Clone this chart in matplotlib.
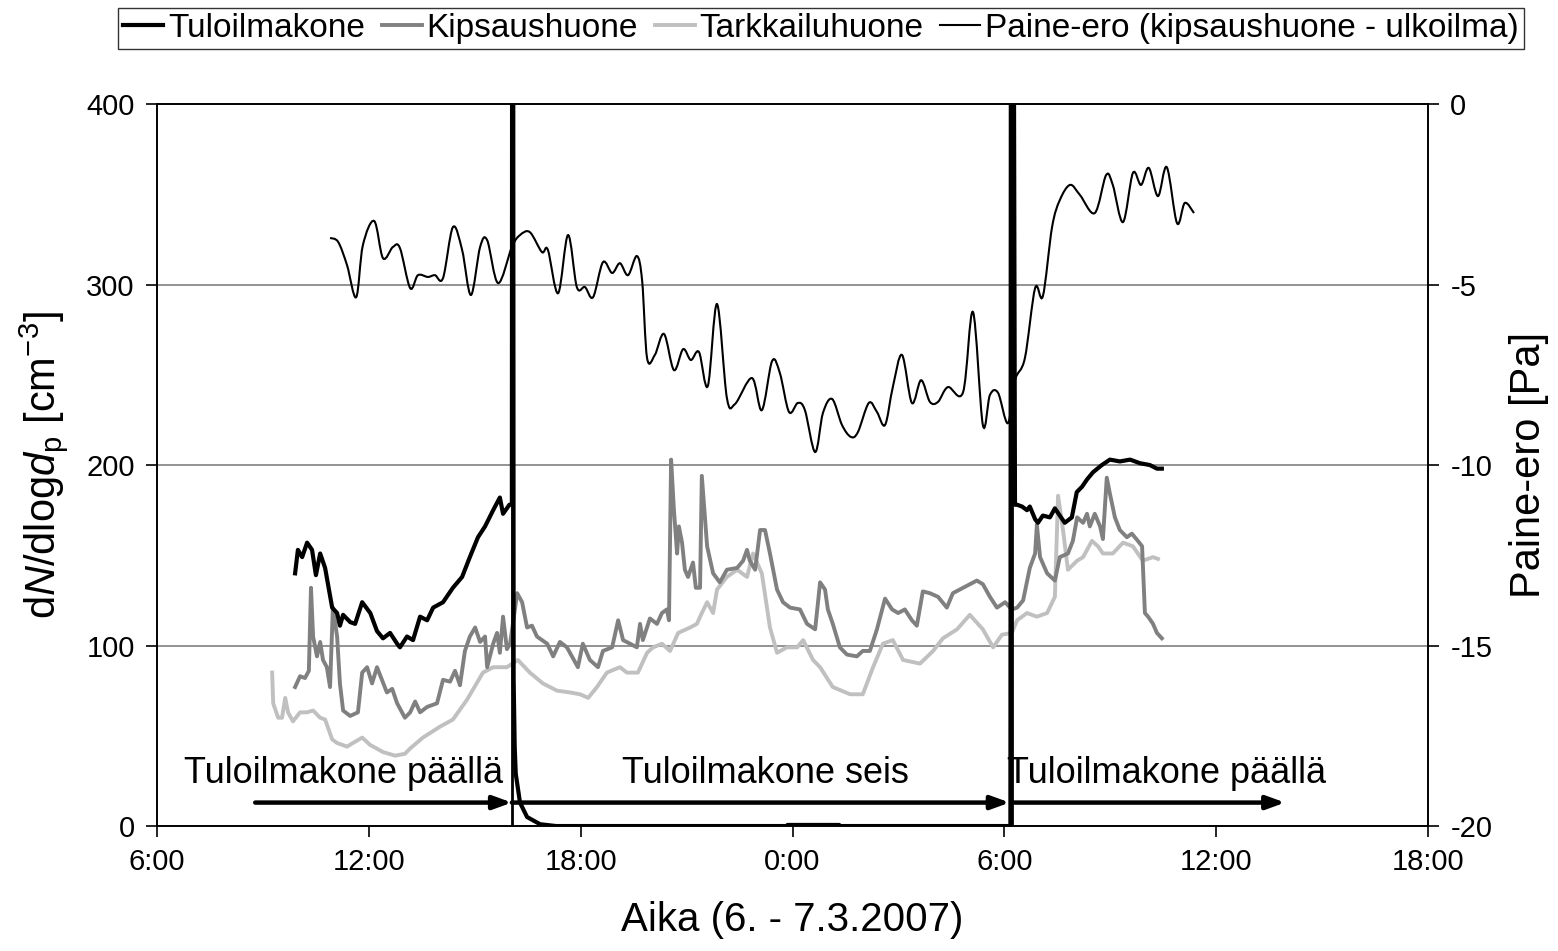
import matplotlib
matplotlib.use("Agg")
import matplotlib.pyplot as plt
from matplotlib.path import Path
from matplotlib.patches import PathPatch
from matplotlib.lines import Line2D
import numpy as np

plt.rcParams['font.family'] = ['Liberation Sans', 'DejaVu Sans']
plt.rcParams['mathtext.fontset'] = 'custom'
plt.rcParams['mathtext.rm'] = 'Liberation Sans'
plt.rcParams['mathtext.it'] = 'Liberation Sans:italic'
plt.rcParams['axes.unicode_minus'] = False

# time axis in hours from 0:00 on 6.3. (so 30 = 6:00 on 7.3.)
tick_hours = [6, 12, 18, 24, 30, 36, 42]
tick_labels = ["6:00", "12:00", "18:00", "0:00", "6:00", "12:00", "18:00"]

# Tuloilmakone (supply air unit), dN/dlogdp
tulo_h = [9.91, 9.99, 10.11, 10.25, 10.39, 10.50, 10.62, 10.76, 10.96, 11.10, 11.18, 11.27,
          11.47, 11.61, 11.81, 12.04, 12.23, 12.40, 12.60, 12.80, 12.88, 13.08, 13.25, 13.45,
          13.65, 13.82, 14.10, 14.38, 14.64, 14.86, 15.09, 15.29, 15.52, 15.71, 15.80, 15.98,
          16.05, 16.07, 16.10, 16.13, 16.16, 16.28, 16.48, 16.85, 17.30,
          23.84, 23.86, 25.32, 25.34, 30.17,
          30.20, 30.30,
          30.36, 30.50, 30.64, 30.72, 30.87, 30.95, 31.09, 31.29, 31.43, 31.71, 31.91, 32.05,
          32.20, 32.34, 32.51, 32.76, 32.99, 33.27, 33.56, 33.84, 34.12, 34.32, 34.46]
tulo_v = [140, 153, 149, 157, 153, 139, 151, 143, 121, 118, 111, 117,
          113, 112, 124, 118, 108, 104, 107, 101, 99, 105, 103, 116,
          114, 121, 124, 132, 138, 149, 160, 166, 175, 182, 173, 178,
          178, 1000, 81, 44, 29, 13, 5, 1, 0,
          0, 0.6, 0.6, 0, 0,
          1000, 178,
          178, 177, 175, 177, 170, 168, 172, 171, 176, 168, 171, 185,
          188, 192, 196, 200, 203, 202, 203, 201, 200, 198, 198]

# Kipsaushuone
kips_h = [9.91, 10.05, 10.19, 10.30, 10.36, 10.42, 10.53, 10.62, 10.70, 10.81, 10.90, 10.98,
          11.10, 11.18, 11.27, 11.47, 11.69, 11.81, 11.95, 12.09, 12.23, 12.37, 12.51, 12.66,
          12.80, 13.02, 13.17, 13.31, 13.45, 13.65, 13.93, 14.10, 14.30, 14.44, 14.58, 14.72,
          14.86, 15.01, 15.15, 15.29, 15.35, 15.52, 15.63, 15.71, 15.80, 15.91, 16.00, 16.20,
          16.34, 16.48, 16.62, 16.76, 17.05, 17.22, 17.41, 17.61, 17.92, 18.06, 18.26, 18.49,
          18.63, 18.89, 19.06, 19.20, 19.40, 19.59, 19.68, 19.76, 19.96, 20.16, 20.30, 20.44,
          20.50, 20.56, 20.64, 20.73, 20.78, 20.87, 20.95, 21.04, 21.18, 21.26, 21.38, 21.43,
          21.58, 21.75, 21.94, 22.14, 22.43, 22.60, 22.71, 22.79, 22.94, 23.08, 23.22, 23.36,
          23.56, 23.73, 23.93, 24.21, 24.41, 24.64, 24.78, 24.92, 25.00, 25.14, 25.34, 25.54,
          25.82, 25.99, 26.19, 26.39, 26.62, 26.82, 26.99, 27.18, 27.38, 27.52, 27.69, 27.89,
          28.12, 28.37, 28.54, 28.83, 29.22, 29.39, 29.59, 29.79, 30.02, 30.21, 30.36, 30.53,
          30.72, 30.87, 30.92, 31.01, 31.21, 31.43, 31.57, 31.80, 31.94, 32.06, 32.23, 32.34,
          32.42, 32.56, 32.71, 32.79, 32.90, 32.99, 33.13, 33.27, 33.47, 33.61, 33.78, 33.90,
          33.98, 34.07, 34.21, 34.32, 34.46]
kips_v = [77, 83, 82, 86, 132, 105, 94, 102, 92, 88, 77, 121,
          105, 79, 64, 61, 63, 85, 88, 79, 88, 81, 74, 76,
          68, 60, 63, 69, 63, 66, 68, 81, 80, 86, 78, 97,
          105, 110, 102, 105, 88, 101, 107, 96, 116, 98, 101, 129,
          124, 110, 111, 105, 101, 94, 102, 99, 88, 101, 92, 88,
          97, 99, 114, 103, 101, 99, 112, 103, 115, 112, 118, 120,
          114, 203, 175, 151, 166, 157, 142, 138, 146, 132, 132, 194,
          155, 140, 135, 142, 143, 147, 153, 147, 142, 164, 164, 151,
          131, 124, 121, 120, 112, 109, 135, 131, 120, 112, 99, 95,
          94, 97, 97, 109, 126, 120, 118, 120, 114, 111, 130, 129,
          127, 121, 129, 132, 136, 134, 127, 121, 124, 120, 121, 125,
          143, 151, 167, 149, 140, 136, 149, 151, 158, 171, 168, 173,
          166, 173, 166, 159, 193, 184, 171, 164, 160, 162, 158, 155,
          118, 116, 112, 107, 104]

# Tarkkailuhuone
tark_h = [9.26, 9.29, 9.43, 9.54, 9.63, 9.71, 9.85, 10.05, 10.25, 10.42, 10.62, 10.76,
          10.96, 11.10, 11.38, 11.55, 11.81, 12.03, 12.40, 12.74, 13.02, 13.17, 13.53, 14.01,
          14.38, 14.78, 15.23, 15.52, 15.91, 16.22, 16.56, 16.93, 17.33, 17.70, 17.98, 18.21,
          18.46, 18.74, 19.11, 19.31, 19.62, 19.88, 20.05, 20.30, 20.53, 20.76, 21.10, 21.29,
          21.43, 21.58, 21.75, 21.86, 22.14, 22.43, 22.71, 22.88, 23.13, 23.36, 23.56, 23.84,
          24.13, 24.30, 24.58, 24.78, 25.14, 25.63, 25.99, 26.28, 26.56, 26.84, 27.13, 27.61,
          27.98, 28.26, 28.66, 29.02, 29.39, 29.68, 29.93, 30.21, 30.36, 30.64, 30.92, 31.21,
          31.43, 31.52, 31.66, 31.80, 32.06, 32.23, 32.48, 32.65, 32.79, 33.07, 33.36, 33.64,
          33.92, 34.21, 34.35]
tark_v = [85, 68, 60, 60, 71, 63, 58, 63, 63, 64, 60, 59,
          48, 46, 44, 46, 49, 45, 41, 39, 40, 43, 49, 55,
          59, 70, 85, 88, 88, 92, 85, 79, 75, 74, 73, 71,
          77, 85, 88, 85, 85, 96, 99, 101, 97, 107, 110, 112,
          118, 124, 118, 131, 138, 142, 138, 151, 140, 110, 96, 99,
          99, 103, 92, 88, 77, 73, 73, 88, 101, 103, 92, 90,
          97, 104, 109, 117, 109, 99, 106, 107, 114, 118, 116, 118,
          127, 183, 164, 142, 147, 149, 158, 155, 151, 151, 157, 155,
          147, 149, 148]

# Paine-ero (kipsaushuone - ulkoilma), Pa
paine_h = [10.90, 11.13, 11.38, 11.64, 11.83, 12.15, 12.40, 12.68, 12.88, 13.17, 13.39, 13.67,
           13.87, 14.10, 14.38, 14.64, 14.89, 15.15, 15.35, 15.66, 16.05, 16.28, 16.56, 16.90,
           17.07, 17.36, 17.64, 17.89, 18.12, 18.35, 18.63, 18.89, 19.11, 19.34, 19.59, 19.74,
           19.88, 20.10, 20.36, 20.64, 20.90, 21.12, 21.35, 21.60, 21.86, 22.14, 22.37, 22.85,
           23.13, 23.42, 23.64, 23.90, 24.15, 24.35, 24.64, 24.86, 25.12, 25.40, 25.65, 25.85,
           26.16, 26.39, 26.62, 26.84, 27.10, 27.38, 27.64, 27.89, 28.12, 28.40, 28.83, 29.11,
           29.39, 29.59, 29.82, 30.10, 30.30, 30.58, 30.87, 31.09, 31.35, 31.57, 31.86, 32.14,
           32.56, 32.88, 33.07, 33.36, 33.64, 33.87, 34.09, 34.35, 34.60, 34.89, 35.11, 35.37]
paine_v = [-3.71, -3.82, -4.46, -5.35, -3.91, -3.24, -4.27, -3.96, -3.99, -5.10, -4.74, -4.79,
           -4.74, -4.82, -3.41, -4.04, -5.29, -3.96, -3.77, -4.96, -3.96, -3.63, -3.55, -4.10,
           -4.04, -5.24, -3.63, -5.07, -5.07, -5.35, -4.38, -4.68, -4.41, -4.74, -4.21, -4.90,
           -7.04, -6.95, -6.37, -7.37, -6.79, -7.09, -6.87, -7.81, -5.54, -8.14, -8.31, -7.59,
           -8.48, -7.12, -7.45, -8.53, -8.28, -8.48, -9.64, -8.56, -8.17, -8.89, -9.22, -9.09,
           -8.28, -8.53, -8.89, -7.84, -6.95, -8.28, -7.65, -8.25, -8.25, -7.84, -7.98, -5.76,
           -8.89, -8.06, -8.00, -8.84, -7.65, -7.04, -5.10, -5.32, -3.41, -2.66, -2.24, -2.52,
           -3.02, -1.97, -2.24, -3.27, -1.91, -2.24, -1.77, -2.55, -1.75, -3.30, -2.74, -3.02]

# fan on/off switch times and annotation labels
switch_hours = [16.05, 30.21]
phase_labels = ["Tuloilmakone päällä", "Tuloilmakone seis", "Tuloilmakone päällä"]
phase_label_x = [11.27, 23.22, 34.6]
arrow_spans = [(8.78, 16.05), (16.05, 30.15), (30.21, 37.95)]


def smooth_path(x, y):
    # Excel-style smoothed line (Catmull-Rom as cubic Bezier)
    p = np.column_stack([x, y])
    n = len(p)
    verts = [p[0]]
    codes = [Path.MOVETO]
    for i in range(n - 1):
        p0 = p[max(i - 1, 0)]
        p1 = p[i]
        p2 = p[i + 1]
        p3 = p[min(i + 2, n - 1)]
        verts += [p1 + (p2 - p0) / 6.0, p2 - (p3 - p1) / 6.0, p2]
        codes += [Path.CURVE4] * 3
    return Path(verts, codes)


fig = plt.figure(figsize=(15.58, 9.51), dpi=100)
ax = fig.add_axes([0.1008, 0.1314, 0.8158, 0.7592])
ax2 = ax.twinx()

for g in [100, 200, 300]:
    ax.axhline(g, color='#808080', lw=1.2, zorder=1)

ax.plot(tark_h, tark_v, color='#c0c0c0', lw=2.8, zorder=2)
ax.plot(kips_h, kips_v, color='#808080', lw=2.8, zorder=3)
ax.plot(tulo_h, tulo_v, color='black', lw=3.0, zorder=4)
for s in switch_hours:
    ax.axvline(s, color='black', lw=2, zorder=4)

for (x0, x1) in arrow_spans:
    ax.annotate("", xy=(x1, 13), xytext=(x0, 13),
                arrowprops=dict(arrowstyle='-|>,head_length=1.1,head_width=0.4',
                                color='black', lw=3.2, shrinkA=0, shrinkB=0), zorder=5)
for lab, lx in zip(phase_labels, phase_label_x):
    ax.text(lx, 29, lab, ha='center', va='center', fontsize=26, zorder=6)

ax2.add_patch(PathPatch(smooth_path(paine_h, paine_v), fill=False, edgecolor='black', lw=1.5))

ax.set_xlim(6, 42)
ax.set_ylim(0, 400)
ax2.set_ylim(-20, 0)
ax.set_xticks(tick_hours)
ax.set_xticklabels(tick_labels)
ax.set_yticks([0, 100, 200, 300, 400])
ax2.set_yticks([-20, -15, -10, -5, 0])
ax.tick_params(axis='both', direction='out', length=8, width=1.2, labelsize=21, pad=8)
ax2.tick_params(axis='y', direction='out', length=8, width=1.2, labelsize=21, pad=8)
for a in (ax, ax2):
    for sp in a.spines.values():
        sp.set_linewidth(1.2)

ax.set_xlabel("Aika (6. - 7.3.2007)", fontsize=29, labelpad=18)
ax.set_ylabel(r"d$N$/dlog$d_{\mathrm{p}}$ [cm$^{-3}$]", fontsize=30, labelpad=12)
ax2.set_ylabel("Paine-ero [Pa]", fontsize=30, labelpad=12)

handles = [Line2D([], [], color='black', lw=3.0),
           Line2D([], [], color='#808080', lw=2.8),
           Line2D([], [], color='#c0c0c0', lw=2.8),
           Line2D([], [], color='black', lw=1.5)]
labels = ["Tuloilmakone", "Kipsaushuone", "Tarkkailuhuone", "Paine-ero (kipsaushuone - ulkoilma)"]
leg = fig.legend(handles, labels, loc='upper center', bbox_to_anchor=(0.527, 0.992), ncol=4,
                 fontsize=24, frameon=True, fancybox=False, handlelength=1.2, handletextpad=0.15,
                 columnspacing=0.5, borderpad=0.15, borderaxespad=0)
leg.get_frame().set_edgecolor('black')
leg.get_frame().set_linewidth(1.0)

fig.savefig("out.png", dpi=100)
